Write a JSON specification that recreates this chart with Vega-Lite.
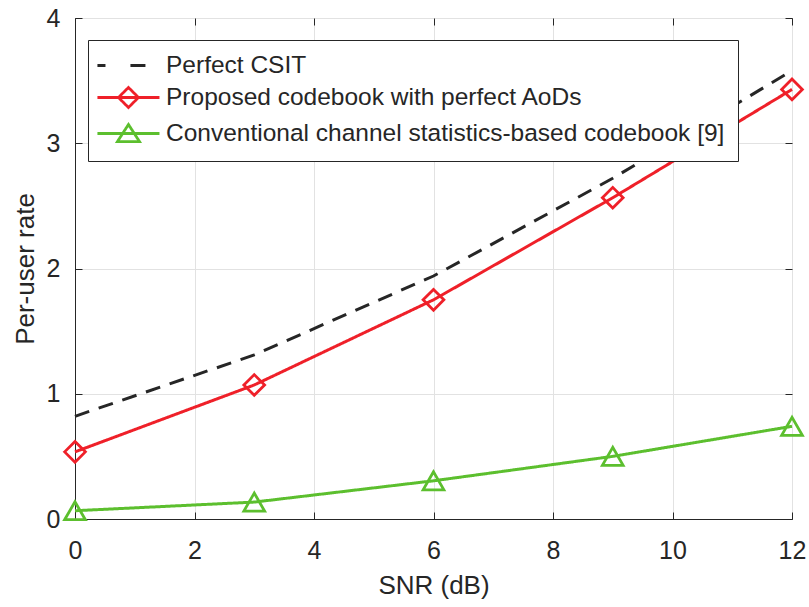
{
  "$schema": "https://vega.github.io/schema/vega-lite/v6.json",
  "width": 717,
  "height": 501,
  "autosize": {"type": "none"},
  "padding": {"left": 75, "top": 18, "right": 17, "bottom": 88},
  "background": "white",
  "config": {
    "font": "Liberation Sans",
    "view": {"stroke": "#262626", "strokeWidth": 1},
    "axis": {
      "domainColor": "#262626",
      "tickColor": "#262626",
      "labelColor": "#262626",
      "titleColor": "#262626",
      "labelFontSize": 25,
      "titleFontSize": 26,
      "titleFontWeight": "normal",
      "gridColor": "#e2e2e2",
      "gridWidth": 1,
      "tickSize": -7,
      "tickWidth": 1,
      "domainWidth": 1
    }
  },
  "data": {
    "values": [
      {"snr": 0, "rate": 0.82, "series": "Perfect CSIT"},
      {"snr": 3, "rate": 1.31, "series": "Perfect CSIT"},
      {"snr": 6, "rate": 1.94, "series": "Perfect CSIT"},
      {"snr": 9, "rate": 2.72, "series": "Perfect CSIT"},
      {"snr": 12, "rate": 3.58, "series": "Perfect CSIT"},
      {"snr": 0, "rate": 0.536, "series": "Proposed codebook with perfect AoDs"},
      {"snr": 3, "rate": 1.07, "series": "Proposed codebook with perfect AoDs"},
      {"snr": 6, "rate": 1.75, "series": "Proposed codebook with perfect AoDs"},
      {"snr": 9, "rate": 2.565, "series": "Proposed codebook with perfect AoDs"},
      {"snr": 12, "rate": 3.43, "series": "Proposed codebook with perfect AoDs"},
      {"snr": 0, "rate": 0.066, "series": "Conventional channel statistics-based codebook [9]"},
      {"snr": 3, "rate": 0.135, "series": "Conventional channel statistics-based codebook [9]"},
      {"snr": 6, "rate": 0.305, "series": "Conventional channel statistics-based codebook [9]"},
      {"snr": 9, "rate": 0.5, "series": "Conventional channel statistics-based codebook [9]"},
      {"snr": 12, "rate": 0.74, "series": "Conventional channel statistics-based codebook [9]"}
    ]
  },
  "layer": [
    {
      "mark": {"type": "line", "strokeWidth": 3},
      "encoding": {
        "x": {
          "field": "snr", "type": "quantitative",
          "scale": {"domain": [0, 12], "nice": false, "zero": false},
          "axis": {"orient": "bottom", "values": [0, 2, 4, 6, 8, 10, 12], "grid": true, "title": "SNR (dB)", "labelPadding": 26, "titlePadding": 9, "labelFlush": false}
        },
        "y": {
          "field": "rate", "type": "quantitative",
          "scale": {"domain": [0, 4], "nice": false},
          "axis": {"orient": "left", "values": [0, 1, 2, 3, 4], "grid": true, "title": "Per-user rate", "labelPadding": 22, "titlePadding": 8, "labelFlush": false}
        },
        "color": {
          "field": "series", "type": "nominal",
          "scale": {
            "domain": ["Perfect CSIT", "Proposed codebook with perfect AoDs", "Conventional channel statistics-based codebook [9]"],
            "range": ["#262626", "#ef2029", "#5cbf2e"]
          },
          "legend": {
            "title": null,
            "orient": "none",
            "legendX": 13,
            "legendY": 22,
            "padding": 13,
            "rowPadding": 4,
            "symbolSize": 484,
            "labelFontSize": 24.5,
            "labelColor": "#262626",
            "labelOffset": 40,
            "labelLimit": 1000,
            "strokeColor": "#262626",
            "fillColor": "white",
            "symbolStrokeWidth": 2.8,
            "encode": {
              "symbols": {
                "update": {
                  "shape": {"signal": "datum.value == 'Perfect CSIT' ? 'M-1.46,0H-0.73M1.54,0H3.0' : datum.value == 'Proposed codebook with perfect AoDs' ? 'M-1.46,0H4.18M1.36,-0.91L2.27,0L1.36,0.91L0.45,0Z' : 'M-1.46,0H4.18M1.36,-0.82L2.36,0.73L0.36,0.73Z'"},
                  "strokeWidth": {"value": 2.8},
                  "fill": {"value": "transparent"},
                  "opacity": {"value": 1}
                }
              }
            }
          }
        },
        "strokeDash": {
          "field": "series", "type": "nominal",
          "scale": {
            "domain": ["Perfect CSIT", "Proposed codebook with perfect AoDs", "Conventional channel statistics-based codebook [9]"],
            "range": [[15, 10], [1, 0], [1, 0]]
          },
          "legend": null
        }
      }
    },
    {
      "transform": [{"filter": "datum.series != 'Perfect CSIT'"}],
      "mark": {"type": "point", "filled": false, "strokeWidth": 2.8, "opacity": 1, "size": 430},
      "encoding": {
        "x": {
          "field": "snr", "type": "quantitative",
          "axis": {"orient": "top", "values": [0, 2, 4, 6, 8, 10, 12], "labels": false, "grid": false, "title": null, "domain": false}
        },
        "y": {
          "field": "rate", "type": "quantitative",
          "axis": {"orient": "right", "values": [0, 1, 2, 3, 4], "labels": false, "grid": false, "title": null, "domain": false}
        },
        "color": {"field": "series", "type": "nominal", "legend": null},
        "shape": {
          "field": "series", "type": "nominal",
          "scale": {
            "domain": ["Proposed codebook with perfect AoDs", "Conventional channel statistics-based codebook [9]"],
            "range": ["diamond", "triangle-up"]
          },
          "legend": null
        }
      }
    }
  ],
  "resolve": {"axis": {"x": "independent", "y": "independent"}}
}
